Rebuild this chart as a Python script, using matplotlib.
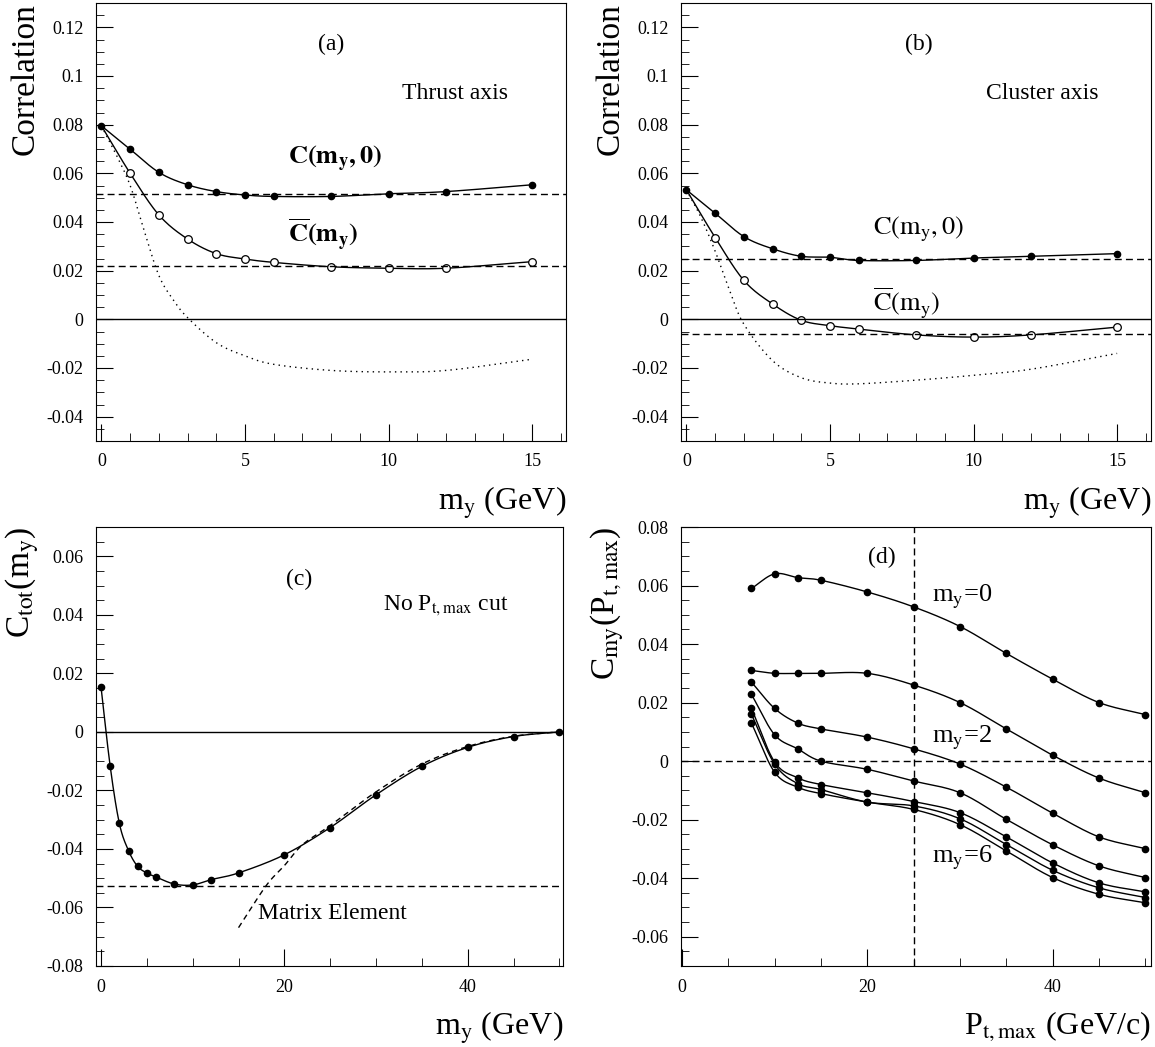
import numpy as np
import matplotlib
matplotlib.use("Agg")
import matplotlib.pyplot as plt
from matplotlib.ticker import MultipleLocator

plt.rcParams["font.family"] = ["Liberation Serif", "DejaVu Serif"]
plt.rcParams["mathtext.fontset"] = "stix"

# ── data ──────────────────────────────────────────────────
m_ab = [0, 1, 2, 3, 4, 5, 6, 8, 10, 12, 15]
a_c0 = [0.0795, 0.0699, 0.0604, 0.0553, 0.0525, 0.0511, 0.0505, 0.0505, 0.0516, 0.0525, 0.0553]
a_cbar = [0.0795, 0.0600, 0.0429, 0.0330, 0.0270, 0.0248, 0.0234, 0.0216, 0.0210, 0.0210, 0.0237]
a_dot_x = [0, 0.5, 1, 1.5, 2, 2.5, 3, 4, 5, 6, 8, 10, 12, 15]
a_dot = [0.0795, 0.068, 0.055, 0.036, 0.018, 0.008, 0.0007, -0.0096, -0.0150, -0.0185, -0.0210,
         -0.0216, -0.0210, -0.0164]
a_h0, a_hbar = 0.0514, 0.0219

b_c0 = [0.0532, 0.0436, 0.0340, 0.0290, 0.0259, 0.0255, 0.0242, 0.0242, 0.0252, 0.0259, 0.0270]
b_cbar = [0.0532, 0.0336, 0.0160, 0.0063, -0.0004, -0.0026, -0.0040, -0.0064, -0.0073, -0.0064, -0.0032]
b_dot_x = [0, 0.5, 1, 1.5, 2, 3, 4, 5, 6, 8, 10, 12, 15]
b_dot = [0.0532, 0.042, 0.028, 0.012, -0.002, -0.017, -0.024, -0.0262, -0.0265, -0.025, -0.023, -0.0205, -0.014]
b_h0, b_hbar = 0.0249, -0.0060

c_x = [0, 1, 2, 3, 4, 5, 6, 8, 10, 12, 15, 20, 25, 30, 35, 40, 45, 50]
c_y = [0.0153, -0.0118, -0.0313, -0.0406, -0.0460, -0.0482, -0.0496, -0.0520, -0.0523, -0.0505,
       -0.0482, -0.0420, -0.0327, -0.0215, -0.0118, -0.0053, -0.0016, 0.0]
me_x = [15, 18, 20, 22, 25, 30, 35, 40, 45, 50]
me_y = [-0.0669, -0.0526, -0.0457, -0.0385, -0.0320, -0.0205, -0.0110, -0.0050, -0.0015, 0.0]
c_h = -0.0527

d_x = [7.5, 10, 12.5, 15, 20, 25, 30, 35, 40, 45, 50]
d_curves = [
    [0.059, 0.064, 0.0627, 0.0618, 0.0578, 0.0527, 0.046, 0.0368, 0.028, 0.020, 0.0159],
    [0.031, 0.030, 0.030, 0.030, 0.030, 0.026, 0.020, 0.011, 0.002, -0.0058, -0.0108],
    [0.027, 0.018, 0.013, 0.011, 0.0082, 0.0042, -0.001, -0.0089, -0.0178, -0.0259, -0.0299],
    [0.0228, 0.009, 0.0042, 0.0, -0.0028, -0.0068, -0.0108, -0.0199, -0.0286, -0.0358, -0.0398],
    [0.018, -0.0003, -0.0057, -0.008, -0.0108, -0.0138, -0.0176, -0.0259, -0.0348, -0.0416, -0.0447],
    [0.016, -0.001, -0.0077, -0.0097, -0.014, -0.0153, -0.0197, -0.0285, -0.0373, -0.0433, -0.0466],
    [0.013, -0.0038, -0.0089, -0.0111, -0.014, -0.0165, -0.0217, -0.0307, -0.0398, -0.0455, -0.0484],
]


def smooth(x, y, n=20):
    # Catmull-Rom through the points, just for drawing
    x = np.asarray(x, float); y = np.asarray(y, float)
    px = np.concatenate([[2 * x[0] - x[1]], x, [2 * x[-1] - x[-2]]])
    py = np.concatenate([[2 * y[0] - y[1]], y, [2 * y[-1] - y[-2]]])
    xs, ys = [], []
    t = np.linspace(0, 1, n, endpoint=False)
    for i in range(1, len(px) - 2):
        for arr, out in ((px, xs), (py, ys)):
            p0, p1, p2, p3 = arr[i - 1:i + 3]
            out.extend(0.5 * (2 * p1 + (-p0 + p2) * t + (2 * p0 - 5 * p1 + 4 * p2 - p3) * t ** 2
                              + (-p0 + 3 * p1 - 3 * p2 + p3) * t ** 3))
    xs.append(x[-1]); ys.append(y[-1])
    return xs, ys


def style(ax, xmaj, xmin, ymaj, ymin):
    ax.xaxis.set_major_locator(MultipleLocator(xmaj))
    ax.xaxis.set_minor_locator(MultipleLocator(xmin))
    ax.yaxis.set_major_locator(MultipleLocator(ymaj))
    ax.yaxis.set_minor_locator(MultipleLocator(ymin))
    ax.tick_params(which="both", direction="in", top=False, right=False, labelsize=13)
    ax.tick_params(which="major", length=12, pad=9)
    ax.tick_params(which="minor", length=6)
    ax.yaxis.set_major_formatter(matplotlib.ticker.FuncFormatter(lambda v, p: f"{v:g}"))


W, H = 1155, 1047
fig = plt.figure(figsize=(W / 100, H / 100), dpi=100)


def axes_px(l, r, t, b):
    return fig.add_axes([l / W, 1 - b / H, (r - l) / W, (b - t) / H])


ax_a = axes_px(96, 566, 3, 441)
ax_b = axes_px(681, 1151, 3, 441)
ax_c = axes_px(96, 563, 527, 966)
ax_d = axes_px(681, 1151, 527, 966)

for ax, c0, cbar, dx, dy, h0, hb in ((ax_a, a_c0, a_cbar, a_dot_x, a_dot, a_h0, a_hbar),
                                     (ax_b, b_c0, b_cbar, b_dot_x, b_dot, b_h0, b_hbar)):
    ax.plot(*smooth(m_ab, c0), color="black", lw=1)
    ax.plot(m_ab, c0, "o", color="black", ms=4.5)
    ax.plot(*smooth(m_ab, cbar), color="black", lw=1)
    ax.plot(m_ab[1:], cbar[1:], "o", mfc="white", mec="black", ms=5.5, mew=0.9)
    ax.plot(*smooth(dx, dy), color="black", lw=1, ls=(0, (1, 3)))
    ax.axhline(0, color="black", lw=1)
    ax.axhline(h0, color="black", lw=1, ls=(0, (5, 3)))
    ax.axhline(hb, color="black", lw=1, ls=(0, (5, 3)))
    ax.set_xlim(-0.19, 16.18)
    ax.set_ylim(-0.05, 0.13)
    style(ax, 5, 1, 0.02, 0.005)
    ax.set_ylabel("Correlation", fontsize=24, loc="top")
    ax.set_xlabel(r"m$_{\rm y}$ (GeV)", fontsize=23, loc="right", labelpad=10)

ax_a.text(8.0, 0.113, "(a)", fontsize=17, ha="center", va="center")
ax_a.text(12.3, 0.093, "Thrust axis", fontsize=17, ha="center", va="center")
ax_a.text(6.5, 0.066, r"$\mathbf{C(m_y,0)}$", fontsize=19, va="center")
ax_a.text(6.5, 0.035, r"$\mathbf{\overline{C}(m_y)}$", fontsize=19, va="center")
ax_b.text(8.1, 0.113, "(b)", fontsize=17, ha="center", va="center")
ax_b.text(12.4, 0.093, "Cluster axis", fontsize=17, ha="center", va="center")
ax_b.text(6.5, 0.037, r"$\mathrm{C(m_y,0)}$", fontsize=19, va="center")
ax_b.text(6.5, 0.007, r"$\mathrm{\overline{C}(m_y)}$", fontsize=19, va="center")

# panel (c)
ax_c.plot(*smooth(c_x, c_y), color="black", lw=1)
ax_c.plot(c_x, c_y, "o", color="black", ms=4.5)
ax_c.plot(*smooth(me_x, me_y), color="black", lw=1, ls=(0, (4, 3)))
ax_c.axhline(0, color="black", lw=1)
ax_c.axhline(c_h, color="black", lw=1, ls=(0, (5, 3)))
ax_c.set_xlim(-0.55, 50.4)
ax_c.set_ylim(-0.08, 0.07)
style(ax_c, 20, 5, 0.02, 0.005)
ax_c.set_ylabel(r"C$_{\rm tot}$(m$_{\rm y}$)", fontsize=24, loc="top")
ax_c.set_xlabel(r"m$_{\rm y}$ (GeV)", fontsize=23, loc="right", labelpad=10)
ax_c.text(21.6, 0.052, "(c)", fontsize=17, ha="center", va="center")
ax_c.text(30.8, 0.043, r"No P$_{\rm t,max}$ cut", fontsize=17, va="center")
ax_c.text(17.1, -0.062, "Matrix Element", fontsize=17, va="center")

# panel (d)
for ys in d_curves:
    ax_d.plot(*smooth(d_x, ys), color="black", lw=1)
    ax_d.plot(d_x, ys, "o", color="black", ms=4.5)
ax_d.axhline(0, color="black", lw=1, ls=(0, (5, 3)))
ax_d.axvline(25, color="black", lw=1, ls=(0, (5, 3)))
ax_d.set_xlim(-0.1, 50.6)
ax_d.set_ylim(-0.07, 0.08)
style(ax_d, 20, 5, 0.02, 0.005)
ax_d.set_ylabel(r"C$_{\rm my}$(P$_{\rm t,max}$)", fontsize=24, loc="top")
ax_d.set_xlabel(r"P$_{\rm t,max}$ (GeV/c)", fontsize=23, loc="right", labelpad=10)
ax_d.text(21.6, 0.0695, "(d)", fontsize=17, ha="center", va="center")
ax_d.text(27.0, 0.056, r"m$_{\rm y}$=0", fontsize=19, va="center")
ax_d.text(27.0, 0.008, r"m$_{\rm y}$=2", fontsize=19, va="center")
ax_d.text(27.0, -0.033, r"m$_{\rm y}$=6", fontsize=19, va="center")

fig.savefig("out.png", dpi=100, facecolor="white")
